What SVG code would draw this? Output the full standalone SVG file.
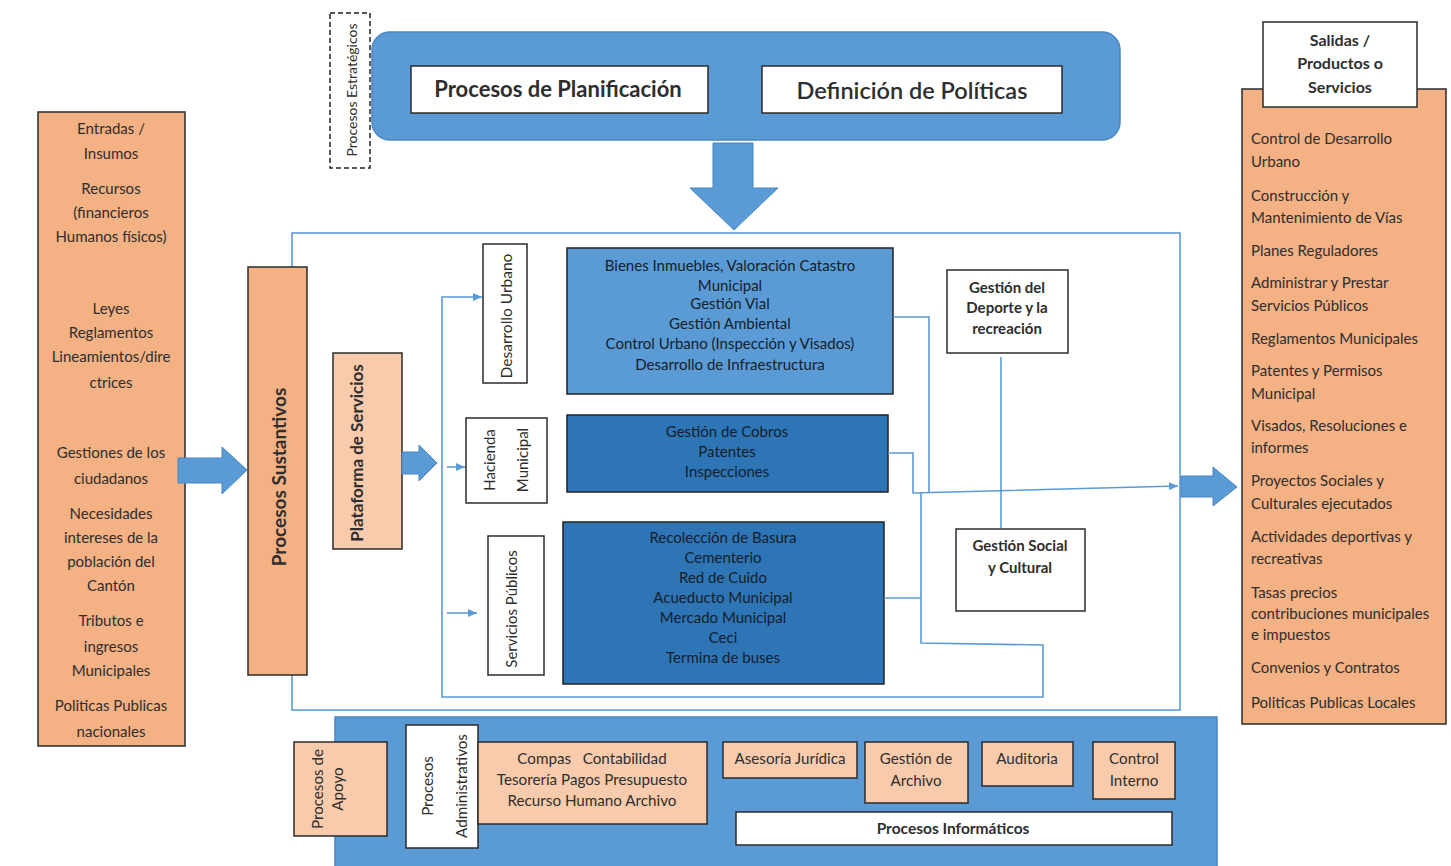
<svg xmlns="http://www.w3.org/2000/svg" width="1451" height="866" viewBox="0 0 1451 866">
<style>
text{font-family:Lato,"Liberation Sans",sans-serif;fill:#2e2e2e}
.peach{fill:#f4b183;stroke:#2b2b2b;stroke-width:1.5}
.lpeach{fill:#f8cbad;stroke:#2b2b2b;stroke-width:1.5}
.white{fill:#fff;stroke:#2b2b2b;stroke-width:1.5}
.blue{fill:#5b9bd5;stroke:#222;stroke-width:1.5}
.dblue{fill:#2e75b6;stroke:#222;stroke-width:1.5}
.barrow{fill:#5b9bd5;stroke:#4a86c0;stroke-width:1}
.c{text-anchor:middle;dominant-baseline:central}
.l{dominant-baseline:central}
.in{font-size:15px}
.out{font-size:15px;fill:#45342a}
.bx{font-size:15px;fill:#141e2c}
.sm{font-size:15.2px}
.b{font-weight:bold}
.conn path{fill:none;stroke:#5b9bd5;stroke-width:1.6}
</style>
<defs>
<marker id="ah" markerUnits="userSpaceOnUse" markerWidth="9" markerHeight="8" refX="9" refY="4" orient="auto">
<path d="M0,0 L9,4 L0,8 z" fill="#5b9bd5"/>
</marker>
</defs>
<rect width="1451" height="866" fill="#fff"/>

<g id="estrategicos-label">
<rect x="330" y="13" width="40" height="155" fill="none" stroke="#222" stroke-width="1.5" stroke-dasharray="5,3"/>
<text class="c" transform="rotate(-90 351 90)" x="351" y="90" font-size="14" fill="#555">Procesos Estratégicos</text>
</g>

<g id="estrategicos">
<rect x="372" y="32" width="748" height="108" rx="18" fill="#5b9bd5" stroke="#4a86c0" stroke-width="1.5"/>
</g>
<g id="planificacion">
<rect class="white" x="411" y="66" width="297" height="47"/>
<text class="c b" x="558" y="88" font-size="22" fill="#1a1a1a">Procesos de Planificación</text>
</g>
<g id="politicas">
<rect class="white" x="762" y="66" width="300" height="47"/>
<text class="c" x="912" y="90" font-size="23.5" fill="#1a1a1a" font-weight="600">Definición de Políticas</text>
</g>
<g id="arrow-down">
<polygon class="barrow" points="713,143 753,143 753,188 778,188 734,230 690,188 713,188"/>
</g>

<g id="entradas">
<rect class="peach" x="38" y="112" width="147" height="634"/>
<g class="in">
<text class="c" x="111" y="128">Entradas /</text>
<text class="c" x="111" y="153">Insumos</text>
<text class="c" x="111" y="188">Recursos</text>
<text class="c" x="111" y="212">(financieros</text>
<text class="c" x="111" y="236">Humanos físicos)</text>
<text class="c" x="111" y="308">Leyes</text>
<text class="c" x="111" y="332">Reglamentos</text>
<text class="c" x="111" y="356">Lineamientos/dire</text>
<text class="c" x="111" y="382">ctrices</text>
<text class="c" x="111" y="452">Gestiones de los</text>
<text class="c" x="111" y="478">ciudadanos</text>
<text class="c" x="111" y="513">Necesidades</text>
<text class="c" x="111" y="537">intereses de la</text>
<text class="c" x="111" y="561">población del</text>
<text class="c" x="111" y="585">Cantón</text>
<text class="c" x="111" y="620">Tributos e</text>
<text class="c" x="111" y="646">ingresos</text>
<text class="c" x="111" y="670">Municipales</text>
<text class="c" x="111" y="705">Politicas Publicas</text>
<text class="c" x="111" y="731">nacionales</text>
</g>
</g>
<g id="arrow-in">
<polygon class="barrow" points="178,458 222,458 222,447 247,470 222,494 222,483 178,483"/>
</g>

<g id="sustantivos-container">
<rect x="292" y="233" width="888" height="477" fill="none" stroke="#5b9bd5" stroke-width="1.6"/>
</g>
<g id="sustantivos">
<rect class="peach" x="248" y="267" width="59" height="408"/>
<text class="c b" transform="rotate(-90 278 477)" x="278" y="477" font-size="19" fill="#2a2a2a">Procesos Sustantivos</text>
</g>
<g id="plataforma">
<rect class="lpeach" x="333" y="353" width="69" height="196"/>
<text class="c b" transform="rotate(-90 356 453)" x="356" y="453" font-size="17" fill="#2a2a2a">Plataforma de Servicios</text>
</g>
<g id="arrow-plataforma">
<polygon class="barrow" points="402,452 419,452 419,445 437,463 419,481 419,474 402,474"/>
</g>

<g id="desarrollo-urbano">
<rect class="white" x="483" y="244" width="44" height="139"/>
<text class="c" transform="rotate(-90 506 316)" x="506" y="316" font-size="15.5">Desarrollo Urbano</text>
</g>
<g id="hacienda">
<rect class="white" x="466" y="418" width="81" height="85"/>
<text class="c" transform="rotate(-90 489 460)" x="489" y="460" font-size="15">Hacienda</text>
<text class="c" transform="rotate(-90 522 460)" x="522" y="460" font-size="15">Municipal</text>
</g>
<g id="servicios-publicos">
<rect class="white" x="488" y="536" width="56" height="139"/>
<text class="c" transform="rotate(-90 511 609)" x="511" y="609" font-size="15">Servicios Públicos</text>
</g>

<g id="bienes">
<rect class="blue" x="567" y="248" width="326" height="146"/>
<text class="c bx" x="730" y="265">Bienes Inmuebles, Valoración Catastro</text>
<text class="c bx" x="730" y="285">Municipal</text>
<text class="c bx" x="730" y="303">Gestión Vial</text>
<text class="c bx" x="730" y="323">Gestión Ambiental</text>
<text class="c bx" x="730" y="343">Control Urbano (Inspección y Visados)</text>
<text class="c bx" x="730" y="364">Desarrollo de Infraestructura</text>
</g>
<g id="cobros">
<rect class="dblue" x="567" y="415" width="321" height="77"/>
<text class="c bx" x="727" y="431">Gestión de Cobros</text>
<text class="c bx" x="727" y="451">Patentes</text>
<text class="c bx" x="727" y="471">Inspecciones</text>
</g>
<g id="servicios">
<rect class="dblue" x="563" y="522" width="321" height="162"/>
<text class="c bx" x="723" y="537">Recolección de Basura</text>
<text class="c bx" x="723" y="557">Cementerio</text>
<text class="c bx" x="723" y="577">Red de Cuido</text>
<text class="c bx" x="723" y="597">Acueducto Municipal</text>
<text class="c bx" x="723" y="617">Mercado Municipal</text>
<text class="c bx" x="723" y="637">Ceci</text>
<text class="c bx" x="723" y="657">Termina de buses</text>
</g>
<g id="deporte">
<rect class="white" x="947" y="270" width="121" height="83"/>
<text class="c b" x="1007" y="287" font-size="15" fill="#2a2a2a">Gestión del</text>
<text class="c b" x="1007" y="307" font-size="15" fill="#2a2a2a">Deporte y la</text>
<text class="c b" x="1007" y="328" font-size="15" fill="#2a2a2a">recreación</text>
</g>
<g id="social">
<rect class="white" x="956" y="529" width="129" height="82"/>
<text class="c b" x="1020" y="545" font-size="15" fill="#2a2a2a">Gestión Social</text>
<text class="c b" x="1020" y="567" font-size="15" fill="#2a2a2a">y Cultural</text>
</g>

<g id="connectors" class="conn">
<path d="M893 317 H929 V493"/>
<path d="M888 453 H913 V493 L1178 486" marker-end="url(#ah)"/>
<path d="M884 598 H921"/>
<path d="M921 493 V643 L1043 645 V697 H442 V297 H482" marker-end="url(#ah)"/>
<path d="M447 467 H465" marker-end="url(#ah)"/>
<path d="M447 613 H477" marker-end="url(#ah)"/>
<path d="M1001 357 V528"/>
</g>

<g id="arrow-out">
<polygon class="barrow" points="1181,476 1213,476 1213,467 1237,487 1213,506 1213,497 1181,497"/>
</g>

<g id="salidas">
<rect class="peach" x="1242" y="89" width="204" height="635"/>
<g class="out">
<text class="l" x="1251" y="138">Control de Desarrollo</text>
<text class="l" x="1251" y="161">Urbano</text>
<text class="l" x="1251" y="195">Construcción y</text>
<text class="l" x="1251" y="217">Mantenimiento de Vías</text>
<text class="l" x="1251" y="250">Planes Reguladores</text>
<text class="l" x="1251" y="282">Administrar y Prestar</text>
<text class="l" x="1251" y="305">Servicios Públicos</text>
<text class="l" x="1251" y="338">Reglamentos Municipales</text>
<text class="l" x="1251" y="370">Patentes y Permisos</text>
<text class="l" x="1251" y="393">Municipal</text>
<text class="l" x="1251" y="425">Visados, Resoluciones e</text>
<text class="l" x="1251" y="447">informes</text>
<text class="l" x="1251" y="480">Proyectos Sociales y</text>
<text class="l" x="1251" y="503">Culturales ejecutados</text>
<text class="l" x="1251" y="536">Actividades deportivas y</text>
<text class="l" x="1251" y="558">recreativas</text>
<text class="l" x="1251" y="592">Tasas precios</text>
<text class="l" x="1251" y="613">contribuciones municipales</text>
<text class="l" x="1251" y="634">e impuestos</text>
<text class="l" x="1251" y="667">Convenios y Contratos</text>
<text class="l" x="1251" y="702">Politicas Publicas Locales</text>
</g>
</g>
<g id="salidas-header">
<rect class="white" x="1263" y="22" width="154" height="85"/>
<text class="c b" x="1340" y="39" font-size="16" fill="#2a2a2a">Salidas /</text>
<text class="c b" x="1340" y="62" font-size="16" fill="#2a2a2a">Productos o</text>
<text class="c b" x="1340" y="86" font-size="16" fill="#2a2a2a">Servicios</text>
</g>

<g id="apoyo-panel">
<rect x="335" y="717" width="882" height="155" fill="#5b9bd5" stroke="#4a86c0" stroke-width="1.5"/>
</g>
<g id="procesos-apoyo">
<rect class="lpeach" x="294" y="742" width="93" height="94"/>
<text class="c sm" transform="rotate(-90 317 789)" x="317" y="789">Procesos de</text>
<text class="c sm" transform="rotate(-90 337 789)" x="337" y="789">Apoyo</text>
</g>
<g id="procesos-administrativos">
<rect class="white" x="406" y="725" width="72" height="123"/>
<text class="c sm" transform="rotate(-90 427 786)" x="427" y="786">Procesos</text>
<text class="c sm" transform="rotate(-90 461 786)" x="461" y="786">Administrativos</text>
</g>
<g id="administrativos-lista">
<rect class="lpeach" x="478" y="742" width="229" height="82"/>
<text class="c sm" x="592" y="758" xml:space="preserve">Compas   Contabilidad</text>
<text class="c sm" x="592" y="779">Tesorería Pagos Presupuesto</text>
<text class="c sm" x="592" y="800">Recurso Humano Archivo</text>
</g>
<g id="asesoria">
<rect class="lpeach" x="723" y="742" width="134" height="36"/>
<text class="c sm" x="790" y="758">Asesoría Jurídica</text>
</g>
<g id="archivo">
<rect class="lpeach" x="865" y="742" width="103" height="61"/>
<text class="c sm" x="916" y="758">Gestión de</text>
<text class="c sm" x="916" y="780">Archivo</text>
</g>
<g id="auditoria">
<rect class="lpeach" x="982" y="742" width="91" height="44"/>
<text class="c sm" x="1027" y="758">Auditoria</text>
</g>
<g id="control-interno">
<rect class="lpeach" x="1093" y="742" width="82" height="57"/>
<text class="c sm" x="1134" y="758">Control</text>
<text class="c sm" x="1134" y="780">Interno</text>
</g>
<g id="informaticos">
<rect class="white" x="736" y="812" width="436" height="33"/>
<text class="c b" x="953" y="828" font-size="15.5" fill="#1a1a1a">Procesos Informáticos</text>
</g>
</svg>
